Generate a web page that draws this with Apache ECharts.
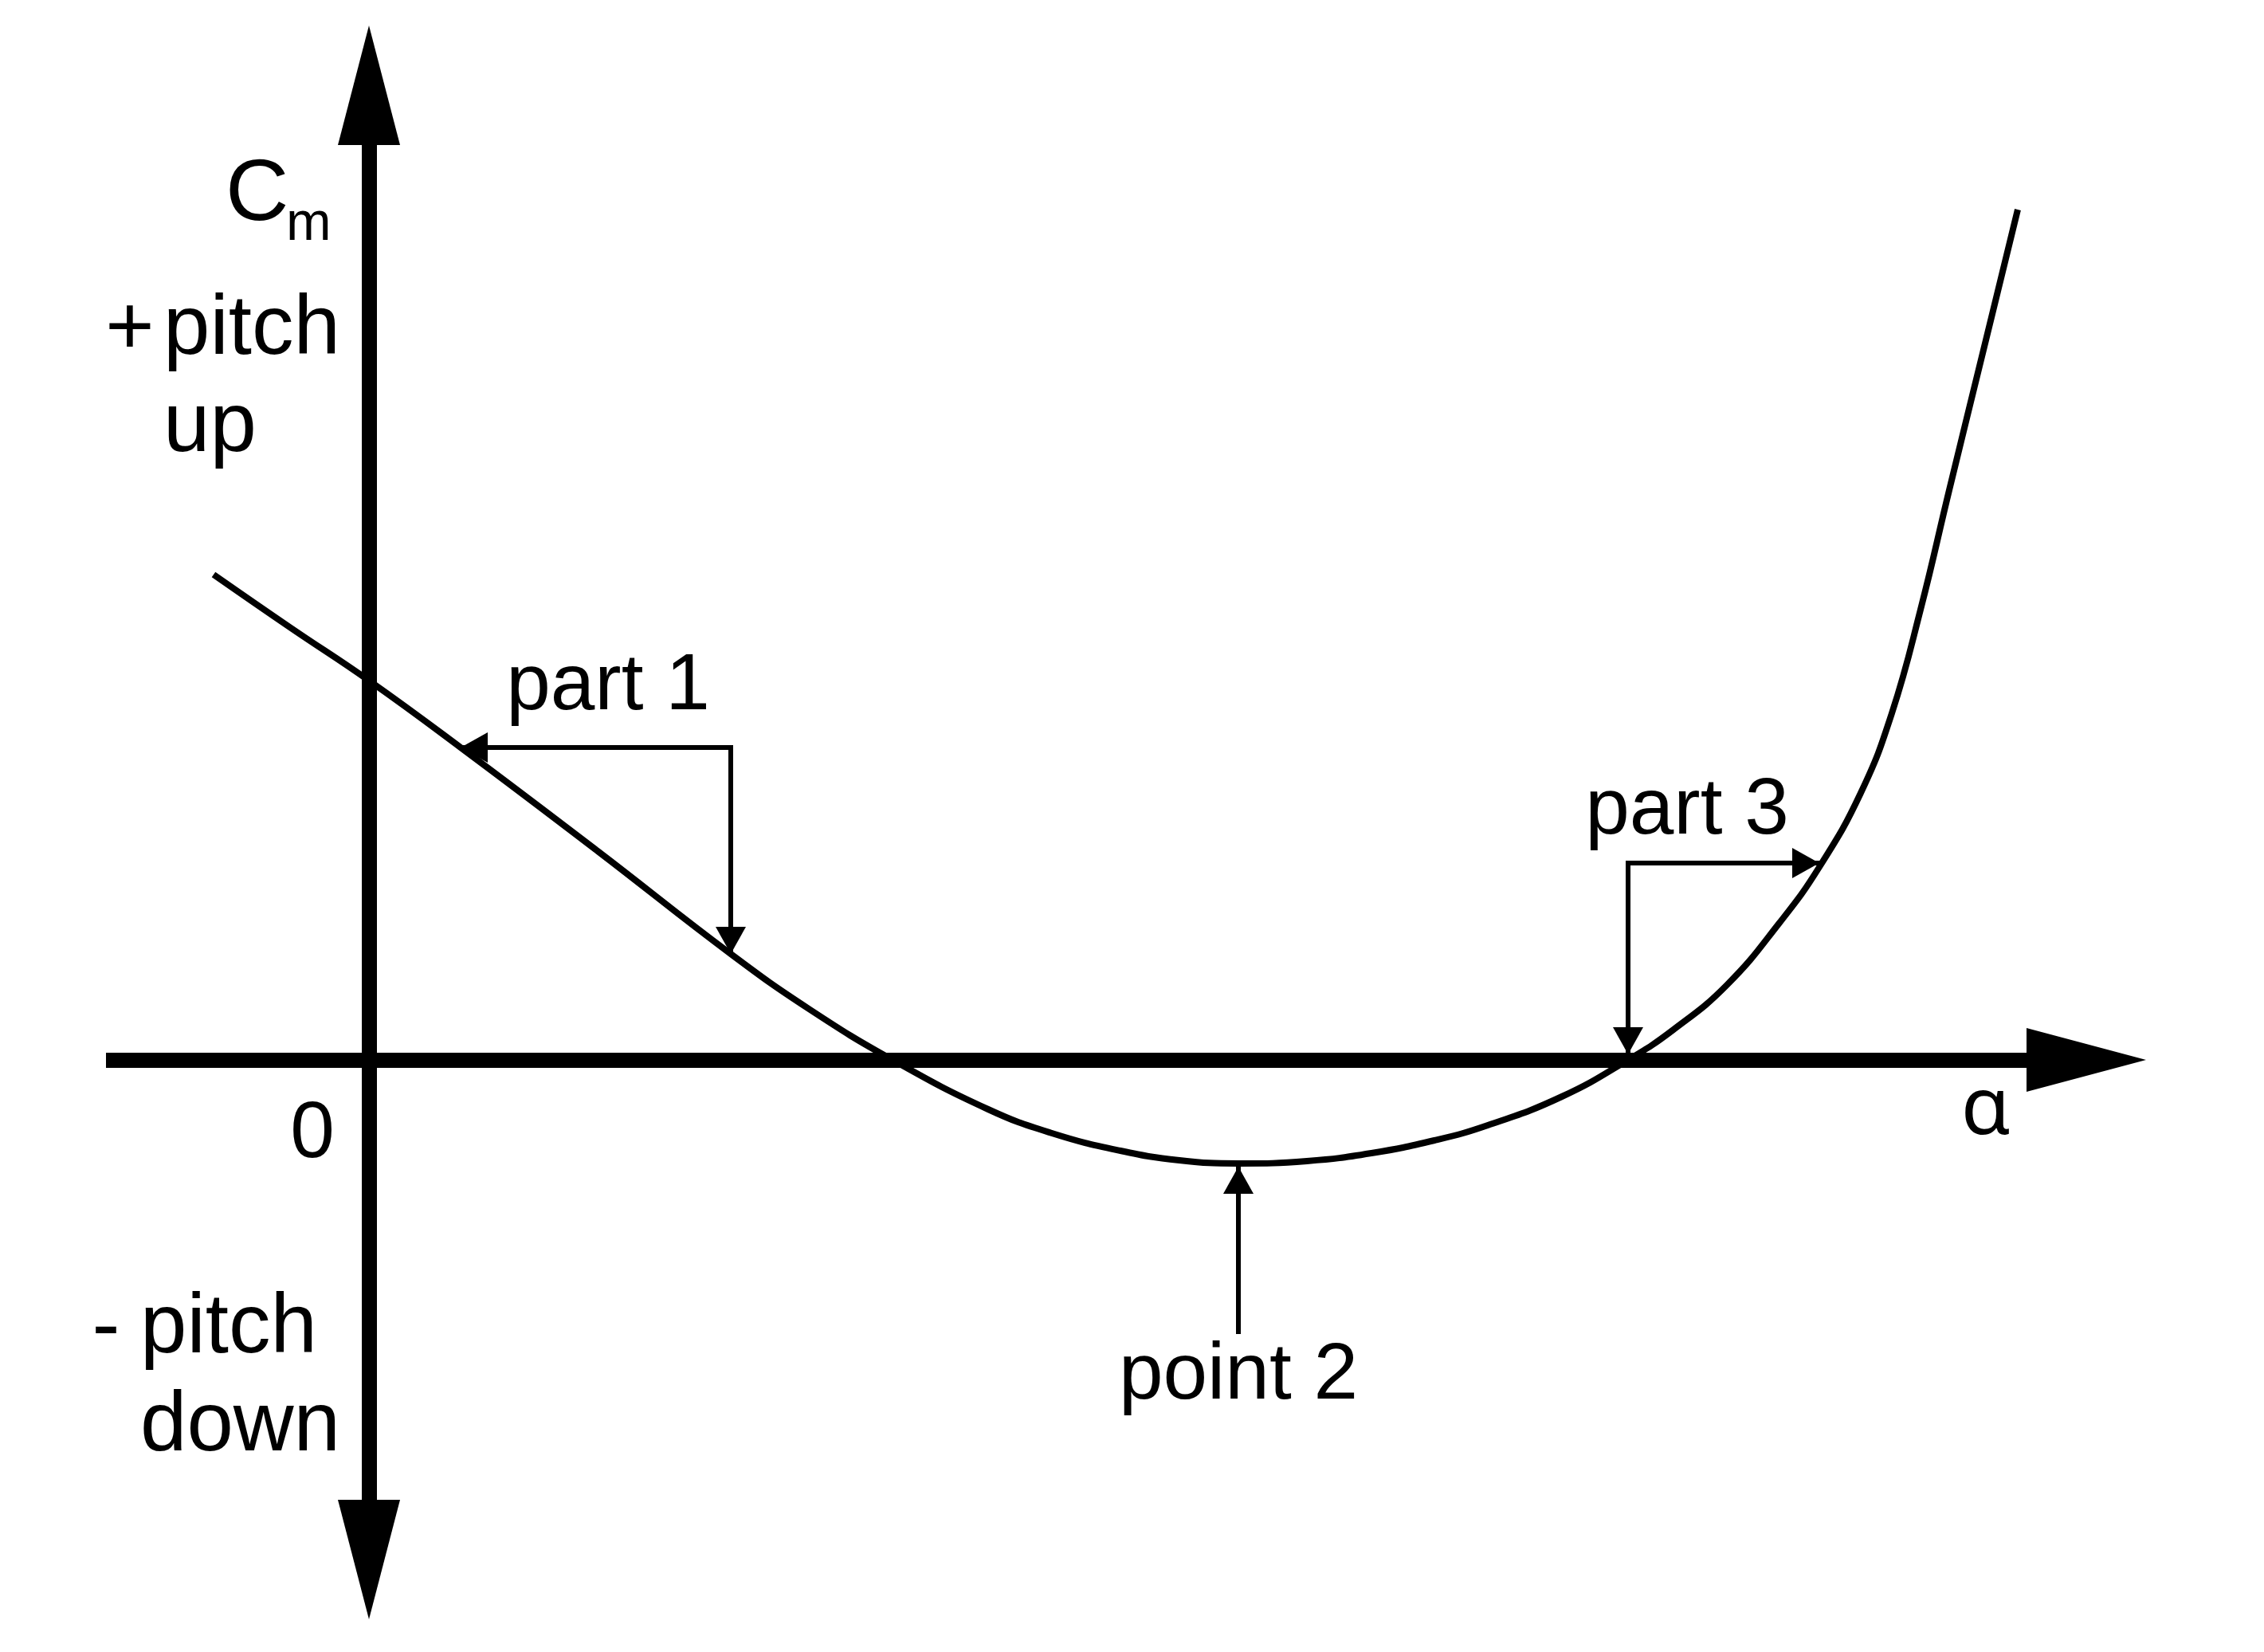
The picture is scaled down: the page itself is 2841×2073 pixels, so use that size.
<!DOCTYPE html>
<html><head><meta charset="utf-8">
<script src="https://cdn.jsdelivr.net/npm/echarts@6/dist/echarts.min.js"></script>
<style>html,body{margin:0;padding:0;background:#fff}#c{width:2841px;height:2073px}</style>
</head><body><div id="c"></div>
<script>
// ---- data (arbitrary units: alpha to the right, Cm upward) ----
const alphaRange = [-3.3, 20.8];
const cmRange = [-5.52, 11.48];

const alpha = [-1.95, -0.98, 0.00, 1.15, 2.87, 4.54, 5.52, 6.57, 7.77, 8.57, 9.43, 10.17, 10.91, 11.77, 12.58, 13.37, 14.04, 14.97, 15.80, 16.37, 17.04, 17.70, 18.20, 18.72, 19.11, 19.47, 19.83, 20.27, 20.69];
const cm    = [ 6.09,  5.42, 4.76, 3.92, 2.62, 1.33, 0.64, 0.00, -0.62, -0.92, -1.14, -1.26, -1.30, -1.27, -1.17, -1.01, -0.82, -0.46, 0.00, 0.38, 0.94, 1.72, 2.42, 3.35, 4.35, 5.65, 7.15, 8.95, 10.67];

// annotation arrows: [from, to] in data units (arrowhead at "to")
const arrowFrom = [[4.54, 3.92], [4.54, 3.92], [15.80, 2.47], [15.80, 2.47], [10.91, -3.41]];
const arrowTo   = [[1.15, 3.92], [4.54, 1.33], [18.20, 2.47], [15.80, 0.07], [10.91, -1.34]];

// annotation labels: text and anchor (centre x, baseline) in data units
const annotationText = ['part 1', 'part 3', 'point 2'];
const annotationAnchor = [[3.00, 4.33], [16.54, 2.77], [10.91, -4.32]];

// ---- chart ----
const chart = echarts.init(document.getElementById('c'), null, {renderer: 'canvas'});
const curve = alpha.map((a, i) => [a, cm[i]]);
const FONT = '"Liberation Sans", Arial, Helvetica, sans-serif';

chart.setOption({
  animation: false,
  backgroundColor: '#ffffff',
  grid: {left: 133, top: 182, width: 2410, height: 1700, containLabel: false, outerBoundsMode: 'none'},
  xAxis: {
    type: 'value', min: alphaRange[0], max: alphaRange[1],
    axisLine: {onZero: true, lineStyle: {color: '#000', width: 19, cap: 'butt'},
      symbol: ['none', 'triangle'], symbolSize: [80, 150], symbolOffset: [0, 75]},
    axisTick: {show: false}, axisLabel: {show: false}, splitLine: {show: false}
  },
  yAxis: {
    type: 'value', min: cmRange[0], max: cmRange[1],
    axisLine: {onZero: true, lineStyle: {color: '#000', width: 19, cap: 'butt'},
      symbol: ['triangle', 'triangle'], symbolSize: [78, 150], symbolOffset: [-75, 75]},
    axisTick: {show: false}, axisLabel: {show: false}, splitLine: {show: false}
  },
  series: [{
    type: 'line', data: curve, smooth: 0.45, showSymbol: false, symbol: 'none',
    lineStyle: {color: '#000', width: 8, join: 'round'}, itemStyle: {color: '#000'}, z: 3,
    markLine: {
      silent: true, animation: false,
      symbol: ['none', 'triangle'], symbolSize: [38, 34], symbolOffset: [[0, 0], [0, 17]],
      label: {show: false},
      lineStyle: {color: '#000', width: 6, type: 'solid', cap: 'square'},
      itemStyle: {color: '#000'},
      emphasis: {disabled: true},
      data: arrowFrom.map((f, i) => [{coord: f}, {coord: arrowTo[i]}])
    }
  }]
});

function txt(text, x, baseline, align, fs, fam) {
  return {
    type: 'text', x: x, y: baseline - 0.35 * fs, silent: true, z: 100,
    style: {text: text, font: 'normal ' + fs + 'px ' + (fam || FONT), fill: '#000',
      align: align, textAlign: align, verticalAlign: 'middle', textVerticalAlign: 'middle'}
  };
}

const px = p => chart.convertToPixel({gridIndex: 0}, p);
const O = px([0, 0]);
const els = [];
annotationText.forEach((t, i) => {
  const p = px(annotationAnchor[i]);
  els.push(txt(t, p[0], p[1], 'center', 100));
});
// axis texts, placed relative to the origin
els.push(txt('C', O[0] - 180, O[1] - 1046, 'left', 110));
els.push(txt('m', O[0] - 104, O[1] - 1024, 'left', 68));
els.push(txt('+', O[0] - 300, O[1] - 878, 'center', 105));
els.push(txt('pitch', O[0] - 258, O[1] - 878, 'left', 105));
els.push(txt('up', O[0] - 258, O[1] - 756, 'left', 105));
els.push(txt('-', O[0] - 330, O[1] + 375, 'center', 105));
els.push(txt('pitch', O[0] - 287, O[1] + 375, 'left', 105));
els.push(txt('down', O[0] - 287, O[1] + 498, 'left', 105));
els.push(txt('0', O[0] - 71, O[1] + 129, 'center', 100));
els.push(txt('α', O[0] + 2029, O[1] + 100, 'center', 100, '"Noto Sans", "DejaVu Sans", sans-serif'));
chart.setOption({graphic: {elements: els}});
</script>
</body></html>
